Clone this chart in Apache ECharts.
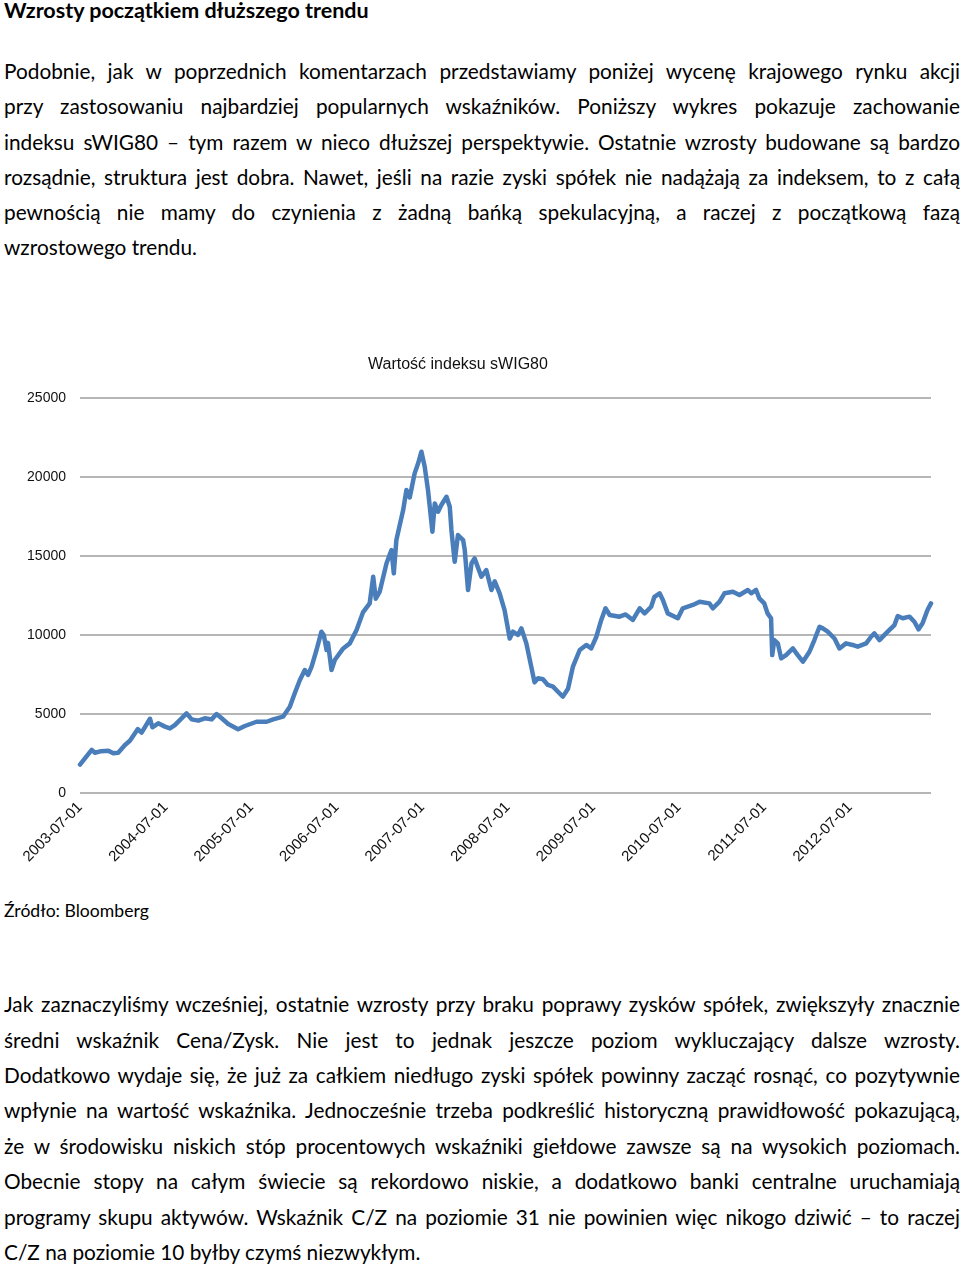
<!DOCTYPE html>
<html lang="pl">
<head>
<meta charset="utf-8">
<title>Wzrosty początkiem dłuższego trendu</title>
<script src="https://cdn.jsdelivr.net/npm/echarts@6/dist/echarts.min.js"></script>
<style>
  html, body { margin: 0; padding: 0; background: #fff; }
  body { width: 960px; height: 1264px; position: relative; overflow: hidden;
         font-family: Lato, "Open Sans", sans-serif; color: #000; }
  .t { position: absolute; left: 4px; width: 956px; white-space: nowrap;
       font-size: 20.8px; line-height: 24px; }
  .j { text-align: justify; text-align-last: justify; }
  .h { font-weight: bold; font-size: 21.5px; }
  .s { font-size: 17.6px; }
  #chart { position: absolute; left: 0; top: 330px; width: 960px; height: 550px; }
</style>
</head>
<body>
<div class="t h" style="top:-2px">Wzrosty początkiem dłuższego trendu</div>

<div class="t j" style="top:59px">Podobnie, jak w poprzednich komentarzach przedstawiamy poniżej wycenę krajowego rynku akcji</div>
<div class="t j" style="top:94px">przy zastosowaniu najbardziej popularnych wskaźników. Poniższy wykres pokazuje zachowanie</div>
<div class="t j" style="top:130px">indeksu sWIG80 – tym razem w nieco dłuższej perspektywie. Ostatnie wzrosty budowane są bardzo</div>
<div class="t j" style="top:165px">rozsądnie, struktura jest dobra. Nawet, jeśli na razie zyski spółek nie nadążają za indeksem, to z całą</div>
<div class="t j" style="top:200px">pewnością nie mamy do czynienia z żadną bańką spekulacyjną, a raczej z początkową fazą</div>
<div class="t" style="top:235px">wzrostowego trendu.</div>

<div id="chart"></div>

<div class="t s" style="top:899px">Źródło: Bloomberg</div>

<div class="t j" style="top:992px">Jak zaznaczyliśmy wcześniej, ostatnie wzrosty przy braku poprawy zysków spółek, zwiększyły znacznie</div>
<div class="t j" style="top:1028px">średni wskaźnik Cena/Zysk. Nie jest to jednak jeszcze poziom wykluczający dalsze wzrosty.</div>
<div class="t j" style="top:1063px">Dodatkowo wydaje się, że już za całkiem niedługo zyski spółek powinny zacząć rosnąć, co pozytywnie</div>
<div class="t j" style="top:1098px">wpłynie na wartość wskaźnika. Jednocześnie trzeba podkreślić historyczną prawidłowość pokazującą,</div>
<div class="t j" style="top:1134px">że w środowisku niskich stóp procentowych wskaźniki giełdowe zawsze są na wysokich poziomach.</div>
<div class="t j" style="top:1169px">Obecnie stopy na całym świecie są rekordowo niskie, a dodatkowo banki centralne uruchamiają</div>
<div class="t j" style="top:1205px">programy skupu aktywów. Wskaźnik C/Z na poziomie 31 nie powinien więc nikogo dziwić – to raczej</div>
<div class="t" style="top:1240px">C/Z na poziomie 10 byłby czymś niezwykłym.</div>

<script>
// sWIG80 - odczyt z wykresu
const dates = [
  '2003-07-01','2003-07-22','2003-08-20','2003-09-03','2003-09-29','2003-10-30','2003-11-20','2003-12-11',
  '2004-01-09','2004-01-30','2004-03-04','2004-03-20','2004-04-25','2004-05-05','2004-05-30','2004-06-28',
  '2004-07-19','2004-08-09','2004-09-28','2004-10-20','2004-11-17','2004-12-15',
  '2005-01-13','2005-02-03','2005-02-25','2005-03-25','2005-05-06','2005-06-04','2005-07-24','2005-09-05',
  '2005-10-03','2005-11-14','2005-12-13',
  '2006-01-03','2006-01-25','2006-02-15','2006-03-01','2006-03-16','2006-04-06','2006-04-27','2006-05-07',
  '2006-05-19','2006-05-25','2006-06-09','2006-06-23','2006-07-29','2006-08-26','2006-09-24','2006-10-22',
  '2006-11-19','2006-12-04','2006-12-15',
  '2007-01-01','2007-01-30','2007-02-20','2007-03-02','2007-03-13','2007-04-11','2007-04-25','2007-05-09',
  '2007-05-30','2007-06-14','2007-06-28','2007-07-12','2007-07-26','2007-08-14','2007-08-24','2007-09-07',
  '2007-09-21','2007-10-13','2007-10-27','2007-11-03','2007-11-17','2007-12-01','2007-12-23','2007-12-30',
  '2008-01-13','2008-01-28','2008-02-10','2008-03-10','2008-03-31','2008-04-22','2008-05-06','2008-05-27',
  '2008-06-17','2008-07-09','2008-07-23','2008-08-13','2008-08-28','2008-09-18','2008-10-09','2008-10-23',
  '2008-11-07','2008-11-28','2008-12-19',
  '2009-01-10','2009-01-31','2009-02-21','2009-03-15','2009-04-05','2009-05-04','2009-06-01','2009-06-22',
  '2009-07-14','2009-08-04','2009-08-22','2009-09-09','2009-10-21','2009-11-16','2009-12-17',
  '2010-01-15','2010-02-05','2010-03-05','2010-03-19','2010-04-10','2010-04-24','2010-05-15','2010-06-27',
  '2010-07-18','2010-08-30','2010-09-28','2010-11-09','2010-11-23','2010-12-22',
  '2011-01-12','2011-02-17','2011-03-17','2011-04-22','2011-05-06','2011-05-27','2011-06-10','2011-07-01',
  '2011-07-15','2011-07-30','2011-08-04','2011-08-13','2011-08-28','2011-09-11','2011-10-02','2011-10-31',
  '2011-11-21','2011-12-13',
  '2012-01-10','2012-01-31','2012-02-22','2012-03-07','2012-03-28','2012-04-26','2012-05-17','2012-06-14',
  '2012-07-12','2012-08-03','2012-09-08','2012-09-29','2012-10-13','2012-11-04','2012-12-09',
  '2013-01-07','2013-01-21','2013-02-11','2013-03-12','2013-04-02','2013-04-20','2013-05-07','2013-05-28',
  '2013-06-12'
];
const values = [
  1800, 2190, 2730, 2550, 2650, 2680, 2510, 2550,
  3040, 3310, 4050, 3820, 4700, 4160, 4410, 4200,
  4090, 4300, 5040, 4660, 4580, 4730,
  4660, 5000, 4730, 4370, 4030, 4240, 4510, 4510,
  4660, 4830, 5460,
  6310, 7150, 7780, 7470, 8000, 9050, 10210, 10000,
  9050, 9500, 7780, 8420, 9150, 9470, 10320, 11450,
  12000, 13690, 12300,
  12750, 14540, 15380, 13900, 16010, 17910, 19180, 18700,
  20230, 20870, 21600, 20650, 19180, 16540, 18330, 17800,
  18230, 18750, 18120, 16650, 14640, 16330, 16010, 15380,
  12850, 14540, 14850, 13690, 14110, 12850, 13400, 12640,
  11580, 9780, 10210, 10000, 10420, 9470, 8000, 7000,
  7260, 7200, 6840,
  6730, 6410, 6100, 6600, 8000, 9050, 9370, 9150,
  9890, 10950, 11690, 11270, 11160, 11300, 10950,
  11690, 11370, 11790, 12420, 12640, 12210, 11370, 11060,
  11690, 11900, 12110, 12000, 11690, 12110,
  12640, 12740, 12530, 12850, 12640, 12850, 12320, 12000,
  11370, 11060, 8730, 9680, 9470, 8520, 8730, 9150,
  8730, 8310,
  8940, 9680, 10520, 10420, 10210, 9780, 9150, 9470,
  9370, 9260, 9470, 9890, 10100, 9680, 10210,
  10630, 11200, 11060, 11160, 10840, 10360, 10740, 11580,
  12000
];
const xLabels = ['2003-07-01','2004-07-01','2005-07-01','2006-07-01','2007-07-01',
                 '2008-07-01','2009-07-01','2010-07-01','2011-07-01','2012-07-01'];

const parse = d => echarts.number.parseDate(d).getTime();
const tickTimes = xLabels.map(parse);
const seriesData = dates.map((d, i) => [parse(d), values[i]]);

const chartDom = document.getElementById('chart');
const myChart = echarts.init(chartDom);
const option = {
  animation: false,
  title: {
    text: 'Wartość indeksu sWIG80',
    left: 363,
    top: 22,
    textStyle: { fontFamily: 'Liberation Sans', fontSize: 16, fontWeight: 'normal', color: '#111' }
  },
  grid: { left: 80, right: 29, top: 68, bottom: 87 },
  xAxis: {
    type: 'value',
    min: parse(dates[0]),
    max: parse(dates[dates.length - 1]),
    axisLine: { show: false },
    axisTick: { show: false },
    splitLine: { show: false },
    axisLabel: {
      customValues: tickTimes,
      rotate: 45,
      margin: 12,
      fontFamily: 'Liberation Sans',
      fontSize: 15,
      color: '#111',
      formatter: function (v) {
        const i = tickTimes.indexOf(v);
        return i >= 0 ? xLabels[i] : '';
      }
    }
  },
  yAxis: {
    type: 'value',
    min: 0,
    max: 25000,
    interval: 5000,
    axisLine: { show: false },
    axisTick: { show: false },
    axisLabel: {
      margin: 14, fontFamily: 'Liberation Sans', fontSize: 14, color: '#111',
      formatter: function (v) { return String(v); }
    },
    splitLine: { lineStyle: { color: '#9e9e9e', width: 1.5 } }
  },
  series: [
    {
      type: 'line',
      data: seriesData,
      showSymbol: false,
      lineStyle: { color: '#4a7ebb', width: 4.5, join: 'round', cap: 'round' }
    }
  ]
};
myChart.setOption(option);
window.addEventListener('resize', myChart.resize);
</script>
</body>
</html>
